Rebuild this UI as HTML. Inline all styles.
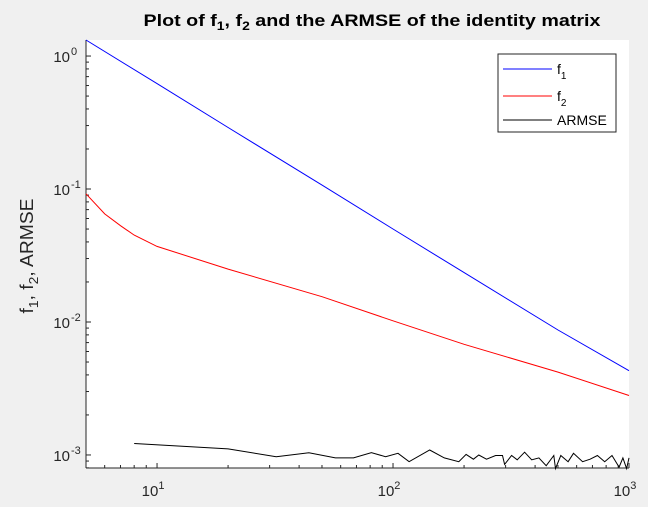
<!DOCTYPE html>
<html><head><meta charset="utf-8"><style>
body{margin:0;background:#f0f0f0;width:648px;height:507px;overflow:hidden;font-family:"Liberation Sans",sans-serif}
svg{display:block}
</style></head><body>
<svg id="chart" width="648" height="507" xmlns="http://www.w3.org/2000/svg" font-family="Liberation Sans, sans-serif">
<rect x="0" y="0" width="648" height="507" fill="#f0f0f0"/>
<rect x="86" y="40" width="543" height="428" fill="#fff"/>
<text x="372" y="26" text-anchor="middle" font-size="17" font-weight="bold" fill="#000" textLength="457" lengthAdjust="spacingAndGlyphs">Plot of f<tspan font-size="12" dy="4">1</tspan><tspan dy="-4">, f</tspan><tspan font-size="12" dy="4">2</tspan><tspan dy="-4"> and the ARMSE of the identity matrix</tspan></text>
<text transform="translate(33,256) rotate(-90)" text-anchor="middle" font-size="18" fill="#262626" textLength="115" lengthAdjust="spacingAndGlyphs">f<tspan font-size="13" dy="5">1</tspan><tspan dy="-5">, f</tspan><tspan font-size="13" dy="5">2</tspan><tspan dy="-5">, ARMSE</tspan></text>
<g id="axes"></g>
<g id="series"></g>
<g>
<rect x="498" y="54" width="118" height="78" fill="#fff" stroke="#262626" stroke-width="1"/>
<line x1="503" y1="69" x2="552" y2="69" stroke="#0000ff"/>
<text x="557" y="74" font-size="14" fill="#000">f<tspan font-size="10" dy="5">1</tspan></text>
<line x1="503" y1="96" x2="552" y2="96" stroke="#ff0000"/>
<text x="557" y="101" font-size="14" fill="#000">f<tspan font-size="10" dy="5">2</tspan></text>
<line x1="503" y1="120" x2="552" y2="120" stroke="#000"/>
<text x="557" y="125" font-size="14" fill="#000">ARMSE</text>
</g>
</svg>
<script>
const f1N = [5, 10, 20, 50, 100, 200, 500, 1000];
const f1Values = [1.32, 0.62, 0.29, 0.107, 0.050, 0.0235, 0.0087, 0.0043];
const f2N = [5, 6, 7, 8, 10, 20, 50, 100, 200, 500, 1000];
const f2Values = [0.092, 0.065, 0.053, 0.045, 0.037, 0.025, 0.0155, 0.0102, 0.0068, 0.0042, 0.0028];
const armseN = [8, 20, 32, 44, 57, 68, 81, 93, 105, 117, 143, 165, 190, 204, 219, 231, 249, 272, 291, 297, 318, 336, 361, 387, 415, 446, 480, 488, 514, 552, 582, 636, 684, 735, 789, 847, 908, 942, 977, 1000];
const armseValues = [0.00122, 0.00111, 0.00097, 0.00104, 0.00095, 0.00095, 0.00104, 0.00097, 0.00103, 0.00089, 0.00109, 0.00095, 0.00089, 0.00101, 0.00093, 0.0010, 0.00093, 0.00099, 0.00099, 0.00085, 0.00099, 0.00092, 0.00105, 0.00092, 0.00095, 0.00083, 0.00099, 0.00079, 0.00099, 0.00089, 0.00103, 0.00089, 0.00093, 0.00099, 0.00089, 0.00099, 0.00081, 0.00095, 0.00079, 0.00095];
const xTickValues = [10, 100, 1000];
const xTickExps = ["1", "2", "3"];
const yTickValues = [1, 0.1, 0.01, 0.001];
const yTickExps = ["0", "-1", "-2", "-3"];

const NS = "http://www.w3.org/2000/svg";
const L = 86, R = 629, T = 40, B = 468;
const xMin = Math.log10(5), xMax = 3;
const yMax = Math.log10(1.32), yMin = -3.098;
function xs(v){ return L + (Math.log10(v) - xMin) / (xMax - xMin) * (R - L); }
function ys(v){ return B - (Math.log10(v) - yMin) / (yMax - yMin) * (B - T); }
function mk(tag, attrs, parent){
  const e = document.createElementNS(NS, tag);
  for (const k in attrs) e.setAttribute(k, attrs[k]);
  parent.appendChild(e);
  return e;
}
const axes = document.getElementById('axes');
const ser = document.getElementById('series');
const col = "#262626";

const xAxis = mk('line', {x1: L, y1: B, x2: R, y2: B, stroke: col, 'stroke-width': 1}, axes);


const yAxis = mk('line', {x1: L, y1: T, x2: L, y2: B, stroke: col, 'stroke-width': 1}, axes);



for (let d = 0; d <= 3; d++) for (let m = 1; m < 10; m++) {
  const v = m * Math.pow(10, d);
  if (v < 5 || v > 1000) continue;
  const x = xs(v), len = (m === 1) ? 5 : 3;
  const t = mk('line', {x1: x, y1: B, x2: x, y2: B - len, stroke: col}, axes);
  
  
}
for (let d = -4; d <= 0; d++) for (let m = 1; m < 10; m++) {
  const v = m * Math.pow(10, d);
  if (Math.log10(v) < yMin || Math.log10(v) > yMax) continue;
  const y = ys(v), len = (m === 1) ? 5 : 3;
  const t = mk('line', {x1: L, y1: y, x2: L + len, y2: y, stroke: col}, axes);
  
  
}
xTickValues.forEach((v, i) => {
  const t = mk('text', {x: xs(v) - 4, y: 496, 'text-anchor': 'middle', 'font-size': 15, fill: col}, axes);
  t.innerHTML = '10<tspan font-size="11" dy="-7">' + xTickExps[i] + '</tspan>';
  
  
});
yTickValues.forEach((v, i) => {
  const t = mk('text', {x: 70, y: ys(v) + 6, 'text-anchor': 'end', 'font-size': 15, fill: col}, axes);
  t.textContent = '10';
  
  
  const e = mk('text', {x: 71, y: ys(v) - 1, 'text-anchor': 'start', 'font-size': 11, fill: col}, axes);
  e.textContent = yTickExps[i];
  
  
});

function line(ns, vals, color, name){
  const pts = ns.map((n, i) => xs(n).toFixed(1) + ',' + ys(vals[i]).toFixed(1)).join(' ');
  const p = mk('polyline', {points: pts, fill: 'none', stroke: color, 'stroke-width': 1}, ser);
  
  
}
line(f1N, f1Values, '#0000ff', 'f1-line');
line(f2N, f2Values, '#ff0000', 'f2-line');
line(armseN, armseValues, '#000000', 'armse-line');
</script>
</body></html>
